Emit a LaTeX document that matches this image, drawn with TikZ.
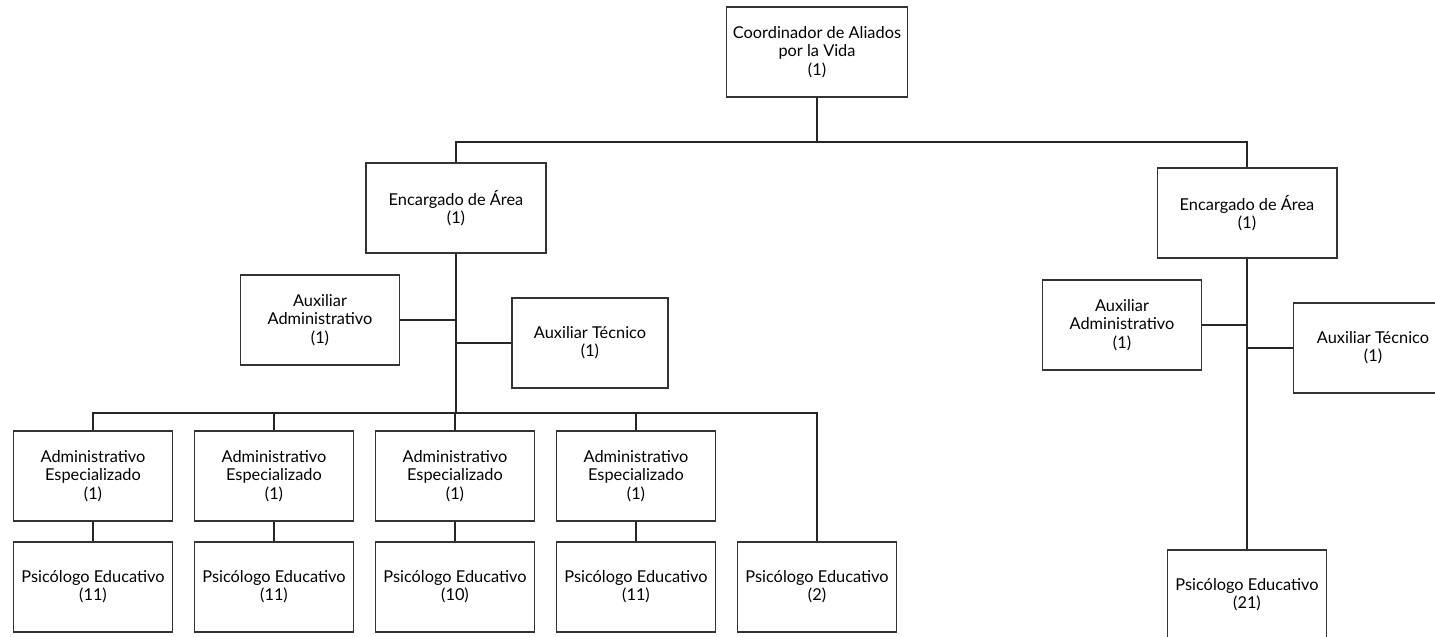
\documentclass[tikz,border=0pt]{standalone}
\usepackage{fontspec}
\setmainfont{Lato}
\tikzset{
  cargo/.style={draw=black!80,line width=0.6pt,align=center,
    minimum width=3.18cm,minimum height=1.8cm,inner sep=2pt,
    font=\fontsize{9.3}{10.4}\selectfont},
  enlace/.style={draw=black!85,line width=1.6pt}
}
\begin{document}
\begin{tikzpicture}[x=0.02cm,y=-0.02cm]
\clip (0,0) rectangle (1435,636);
\node[cargo,minimum width=3.62cm] (coord) at (817,52) {Coordinador de Aliados\\por la Vida\\(1)};
\node[cargo,minimum width=3.6cm] (encL) at (456,208) {Encargado de Área\\(1)};
\node[cargo,minimum width=3.6cm] (encR) at (1247,213) {Encargado de Área\\(1)};
\node[cargo] (auxAL) at (320,320) {Auxiliar\\Administrativo\\(1)};
\node[cargo,minimum width=3.12cm] (auxTL) at (590,343) {Auxiliar Técnico\\(1)};
\node[cargo] (auxAR) at (1122,325) {Auxiliar\\Administrativo\\(1)};
\node[cargo,minimum width=3.2cm] (auxTR) at (1373,348) {Auxiliar Técnico\\(1)};
\foreach \i/\x/\n in {1/93/11,2/274/11,3/455/10,4/636/11}{
  \node[cargo] (adm\i) at (\x,476) {Administrativo\\Especializado\\(1)};
  \node[cargo] (psi\i) at (\x,587) {Psicólogo Educativo\\(\n)};
}
\node[cargo] (psi5) at (817,587) {Psicólogo Educativo\\(2)};
\node[cargo] (psiR) at (1247,595) {Psicólogo Educativo\\(21)};
\coordinate (top) at (817,142);
\coordinate (bus) at (456,413);
\draw[enlace] (coord) -- (top);
\draw[enlace] (encL.north) |- (top) -| (encR.north);
\draw[enlace] (encL) -- (bus);
\draw[enlace] (auxAL) -- (auxAL.east -| bus);
\draw[enlace] (auxTL) -- (auxTL.west -| bus);
\draw[enlace] (adm1.north) |- (bus) -| (psi5.north);
\foreach \i in {2,3,4}
  \draw[enlace] (adm\i.north) -- (adm\i.north |- bus);
\foreach \i in {1,2,3,4}
  \draw[enlace] (adm\i) -- (psi\i);
\draw[enlace] (encR) -- (psiR);
\draw[enlace] (auxAR) -- (auxAR.east -| encR);
\draw[enlace] (auxTR) -- (auxTR.west -| encR);
\end{tikzpicture}
\end{document}
